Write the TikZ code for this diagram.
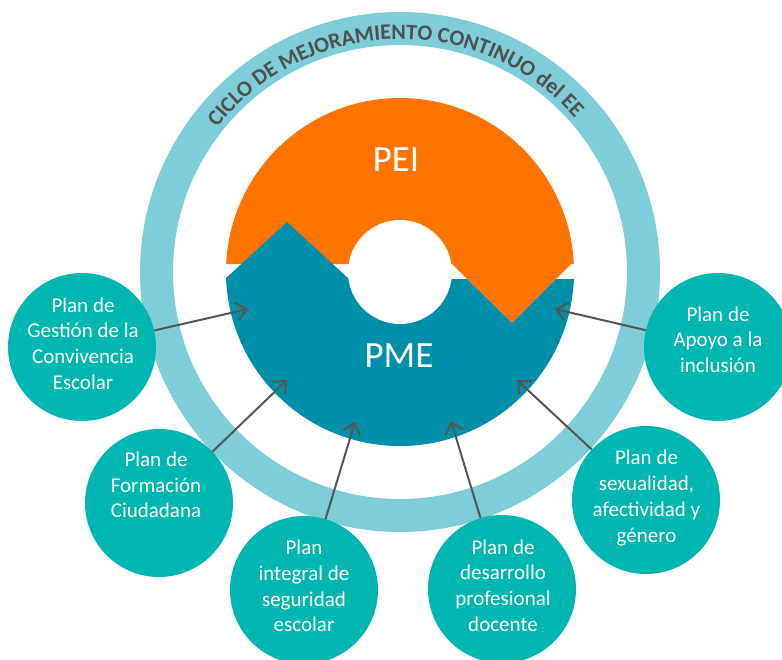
\documentclass[tikz,border=0pt]{standalone}
\usepackage{fontspec}
\setmainfont{Carlito}
\usetikzlibrary{arrows.meta,decorations.text}
\definecolor{orangePEI}{HTML}{FF7300}
\definecolor{tealPME}{HTML}{008FA8}
\definecolor{ringblue}{HTML}{7ECDD8}
\definecolor{plangreen}{HTML}{00B6B0}
\definecolor{arrowgray}{HTML}{555555}
\definecolor{ringtext}{HTML}{505050}
\begin{document}
\begin{tikzpicture}[x=1pt,y=-1pt,
 plan/.style={circle, fill=plangreen, minimum size=148pt, inner sep=0pt},
 plantext/.style={align=center, text=white, font=\fontsize{21}{25.7}\selectfont, inner sep=0pt},
 bigtext/.style={text=white, font=\fontsize{37}{40}\selectfont, inner sep=0pt},
 feeder/.style={draw=arrowgray, line width=2pt, -{Straight Barb[length=10pt,width=18pt]}},
]
\useasboundingbox (0,0) rectangle (782,659);
\coordinate (cen) at (400,272);
% outer ring
\draw[ringblue, line width=33pt] (cen) circle (243.5);
\path[decorate, decoration={text along path, text align=center,
  text={|\fontsize{22}{24}\selectfont\bfseries\color{ringtext}|CICLO DE MEJORAMIENTO CONTINUO del EE}}]
  plot[domain=198.5:338.5, samples=141] ({400+233*cos(\x)},{272+233*sin(\x)});
% PEI / PME disc
\begin{scope}
 \clip (cen) circle (174);
 \fill[orangePEI] (210,80) -- (590,80) -- (590,264) -- (571,264) -- (512,323) -- (452,264) -- (210,264) -- cycle;
 \fill[tealPME] (210,279) -- (225,279) -- (287,222) -- (349,279) -- (467,279) -- (512,323) -- (556,279) -- (590,279) -- (590,460) -- (210,460) -- cycle;
\end{scope}
\fill[white] (cen) circle (52);
\node[bigtext] (pei) at (396,160) {PEI};
\node[bigtext] (pme) at (399,355.5) {PME};
% plan circles
\node[plan] (c1) at (82,347) {};
\node[plan] (c2) at (159,503) {};
\node[plan] (c3) at (304,590) {};
\node[plan] (c4) at (502,589) {};
\node[plan] (c5) at (646,500) {};
\node[plan] (c6) at (718,347) {};
\node[plantext] (l1) at (83,343.5) {Plan de\\Gestión de la\\Convivencia\\Escolar};
\node[plantext] (l2) at (156,485) {Plan de\\Formación\\Ciudadana};
\node[plantext] (l3) at (304,586) {Plan\\integral de\\seguridad\\escolar};
\node[plantext] (l4) at (503,585.5) {Plan de\\desarrollo\\profesional\\docente};
\node[plantext] (l5) at (646.5,498) {Plan de\\sexualidad,\\afectividad y\\género};
\node[plantext] (l6) at (718,339.5) {Plan de\\Apoyo a la\\inclusión};
% arrows
\coordinate (t1) at (248,309);
\coordinate (t2) at (287,380);
\coordinate (t3) at (355,422);
\coordinate (t4) at (451,421);
\coordinate (t5) at (517,380);
\coordinate (t6) at (555,309);
\draw[feeder] (c1) -- (t1);
\draw[feeder] (c2) -- (t2);
\draw[feeder] (c3) -- (t3);
\draw[feeder] (c4) -- (t4);
\draw[feeder] (c5) -- (t5);
\draw[feeder] (c6) -- (t6);
\end{tikzpicture}
\end{document}
